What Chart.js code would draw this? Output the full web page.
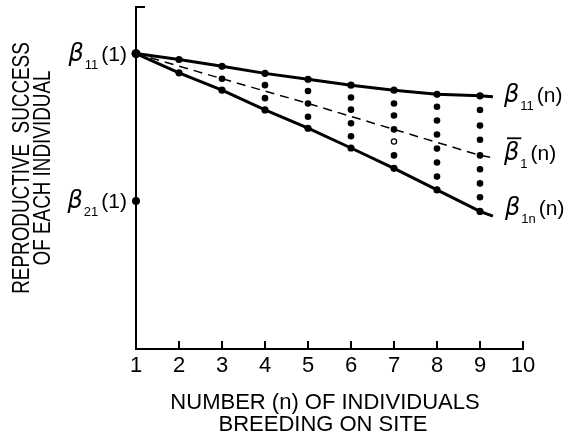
<!DOCTYPE html>
<html>
<head>
<meta charset="utf-8">
<script src="https://cdn.jsdelivr.net/npm/chart.js@4.4.1/dist/chart.umd.min.js"></script>
<style>
html,body{margin:0;padding:0;background:#fff;}
#wrap{width:577px;height:436px;position:relative;}
</style>
</head>
<body>
<div id="wrap"><canvas id="c" width="577" height="436"></canvas></div>
<script>
// ---------- data ----------
const nValues   = [1, 2, 3, 4, 5, 6, 7, 8, 9];
const xTickLabels = ['1','2','3','4','5','6','7','8','9','10'];
// best individual's success beta_11(n)
const beta11    = [1.000, 0.980, 0.957, 0.933, 0.913, 0.893, 0.876, 0.862, 0.857];
// worst individual's success beta_1n(n)
const beta1n    = [1.000, 0.935, 0.876, 0.809, 0.747, 0.680, 0.611, 0.538, 0.465];
// mean success (dashed) — points where it is drawn through a dot
const meanX     = [1, 3, 5, 7, 9];
const betaMean  = [1.000, 0.915, 0.831, 0.743, 0.655];
// short continuation of each line beyond n = 9
const lineEndX  = 9.3;
const beta11End = 0.854;
const betaMeanEnd = 0.647;
const beta1nEnd = 0.449;
// second site, one individual
const beta21At1 = 0.500;
// intermediate individuals at each n
const others3 = [0.915];
const others4 = [0.893, 0.849];
const others5 = [0.873, 0.831, 0.786];
const others6 = [0.851, 0.810, 0.764, 0.720];
const others7 = [0.831, 0.790, 0.743, 0.655];
const others8 = [0.820, 0.773, 0.726, 0.678, 0.631, 0.583];
const others9 = [0.809, 0.756, 0.708, 0.655, 0.608, 0.560, 0.513];
const hollowX = [7];
const hollowY = [0.702];

// labels
const leftLabels  = [{sub:'11', tail:'(1)', y:1.000}, {sub:'21', tail:'(1)', y:beta21At1}];
const yTitle = ['REPRODUCTIVE  SUCCESS', 'OF EACH INDIVIDUAL'];
const xTitle = ['NUMBER (n) OF INDIVIDUALS', 'BREEDING ON SITE'];

// ---------- build datasets ----------
const ink = '#000';
const upperData = nValues.map((n,i)=>({x:n, y:beta11[i]})).concat([{x:lineEndX, y:beta11End}]);
const lowerData = nValues.map((n,i)=>({x:n, y:beta1n[i]})).concat([{x:lineEndX, y:beta1nEnd}]);
const meanData  = meanX.map((n,i)=>({x:n, y:betaMean[i]})).concat([{x:lineEndX, y:betaMeanEnd}]);
const columns = {3:others3, 4:others4, 5:others5, 6:others6, 7:others7, 8:others8, 9:others9};
const dotData = [];
Object.keys(columns).forEach(k => columns[k].forEach(v => dotData.push({x:+k, y:v})));
const hollowData = hollowX.map((x,i)=>({x, y:hollowY[i]}));

const radiiFor = (arr) => arr.map((p,i)=> i === arr.length-1 ? 0 : (p.x === 1 ? 4.4 : 3.6));

const FONT = '"Liberation Sans", Arial, sans-serif';

function drawBeta(ctx, x, base, sub, tail, bar, alignRight) {
  const fB = 'italic 24px "DejaVu Sans", sans-serif';
  const fS = '13px ' + FONT;
  const fT = '21px ' + FONT;
  ctx.font = fB; const wB = ctx.measureText('\u03B2').width;
  ctx.font = fS; const wS = ctx.measureText(sub).width;
  ctx.font = fT; const wT = ctx.measureText(tail).width;
  const g1 = 1, g2 = 3;
  const total = wB + g1 + wS + g2 + wT;
  const x0 = alignRight ? x - total : x;
  ctx.fillStyle = ink;
  ctx.textAlign = 'left';
  ctx.textBaseline = 'alphabetic';
  ctx.font = fB; ctx.fillText('\u03B2', x0, base);
  if (bar) ctx.fillRect(x0 + 3, base - 23, wB - 1, 1.8);
  ctx.font = fS; ctx.fillText(sub, x0 + wB + g1, base + 8);
  ctx.font = fT; ctx.fillText(tail, x0 + wB + g1 + wS + g2, base);
}

const decor = {
  id: 'decor',
  afterDraw(chart) {
    const {ctx, chartArea} = chart;
    const xs = chart.scales.x, ys = chart.scales.y;
    ctx.save();
    ctx.strokeStyle = ink;
    ctx.lineWidth = 2;
    // inward tick marks on the x axis
    xs.ticks.forEach(t => {
      if (t.value === xs.min) return;
      const px = Math.round(xs.getPixelForValue(t.value));
      ctx.beginPath();
      ctx.moveTo(px, chartArea.bottom);
      ctx.lineTo(px, chartArea.bottom - 7.5);
      ctx.stroke();
    });
    // small cap at top of y axis
    const ax = xs.getPixelForValue(xs.min);
    ctx.beginPath();
    ctx.moveTo(ax - 1, chartArea.top);
    ctx.lineTo(ax + 9, chartArea.top);
    ctx.stroke();

    // left labels (y values on the axis)
    leftLabels.forEach(l => {
      drawBeta(ctx, ax - 9, ys.getPixelForValue(l.y) + 7, l.sub, l.tail, false, true);
    });
    // right labels at the end of each line
    const rx = xs.getPixelForValue(9) + 24;
    drawBeta(ctx, rx, ys.getPixelForValue(beta11[8]) + 6, '11', '(n)', false, false);
    drawBeta(ctx, rx, ys.getPixelForValue(betaMean[4]) + 5, '1', '(n)', true, false);
    drawBeta(ctx, rx + 1, ys.getPixelForValue(beta1n[8]) + 4, '1n', '(n)', false, false);

    // x title
    ctx.fillStyle = ink;
    ctx.textAlign = 'center';
    ctx.textBaseline = 'alphabetic';
    ctx.font = '22px ' + FONT;
    ctx.fillText(xTitle[0], 325, 409);
    ctx.fillText(xTitle[1], 323, 431);

    // y title (rotated, condensed lettering)
    const yc = 168;
    [[28.5, yTitle[0]], [50, yTitle[1]]].forEach(([bx, txt]) => {
      ctx.save();
      ctx.translate(bx, yc);
      ctx.rotate(-Math.PI / 2);
      ctx.scale(0.82, 1);
      ctx.font = '23px ' + FONT;
      ctx.textAlign = 'center';
      ctx.textBaseline = 'alphabetic';
      ctx.fillText(txt, 0, 0);
      ctx.restore();
    });
    ctx.restore();
  }
};

new Chart(document.getElementById('c'), {
  type: 'line',
  data: {
    datasets: [
      { label: 'hollow', data: hollowData, showLine: false, pointRadius: 2.6,
        pointBackgroundColor: '#fff', pointBorderColor: ink, pointBorderWidth: 1.3, clip: false },
      { label: 'beta11(n)', data: upperData, borderColor: ink, borderWidth: 3,
        pointRadius: radiiFor(upperData), pointBackgroundColor: ink, pointBorderWidth: 0, clip: false },
      { label: 'beta1n(n)', data: lowerData, borderColor: ink, borderWidth: 3,
        pointRadius: radiiFor(lowerData), pointBackgroundColor: ink, pointBorderWidth: 0, clip: false },
      { label: 'mean', data: meanData, borderColor: ink, borderWidth: 1.5, borderDash: [9, 6],
        pointRadius: 0, clip: false },
      { label: 'individuals', data: dotData, showLine: false, pointRadius: 3.3,
        pointBackgroundColor: ink, pointBorderWidth: 0, clip: false },
      { label: 'beta21(1)', data: [{x:1, y:beta21At1}], showLine: false, pointRadius: 4,
        pointBackgroundColor: ink, pointBorderWidth: 0, clip: false }
    ]
  },
  options: {
    responsive: false,
    animation: false,
    events: [],
    layout: { padding: { left: 136, right: 54, top: 7, bottom: 53 } },
    elements: { line: { tension: 0 } },
    plugins: { legend: { display: false }, tooltip: { enabled: false } },
    scales: {
      x: {
        type: 'linear', min: 1, max: 10,
        ticks: { stepSize: 1, autoSkip: false, maxRotation: 0, padding: 4, color: ink,
                 font: { family: FONT, size: 22 },
                 callback: (v) => xTickLabels[Math.round(v) - 1] },
        grid: { display: false, drawTicks: false },
        border: { display: true, color: ink, width: 2 }
      },
      y: {
        min: 0, max: 1.158,
        ticks: { display: false },
        grid: { display: false, drawTicks: false },
        border: { display: true, color: ink, width: 2 }
      }
    }
  },
  plugins: [decor]
});
</script>
</body>
</html>
